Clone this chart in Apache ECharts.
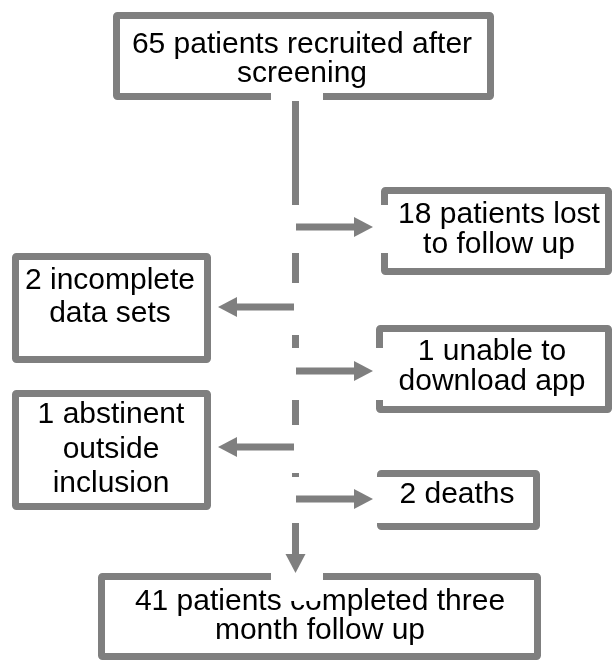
<!DOCTYPE html>
<html><head><meta charset="utf-8">
<script src="https://cdn.jsdelivr.net/npm/echarts@6/dist/echarts.min.js"></script>
<style>html,body{margin:0;padding:0;background:#fff}#c{width:614px;height:660px}</style>
</head><body><div id="c"></div>
<script>
// ---- data ----
const stageCounts = [65, 18, 2, 1, 1, 2, 41];
const stageTexts = [
  'patients recruited after\nscreening',
  'patients lost\nto follow up',
  'incomplete\ndata sets',
  'unable to\ndownload app',
  'abstinent\noutside\ninclusion',
  'deaths',
  'patients completed three\nmonth follow up'
];
const stageLabels = stageCounts.map((n, i) => n + ' ' + stageTexts[i]);

// ---- layout (axis units = page pixels) ----
const boxRects = [
  [113, 12, 494, 100],
  [381, 187, 612, 275],
  [12, 253, 211, 363],
  [376, 325, 612, 413],
  [12, 390, 211, 510],
  [377, 470, 540, 530],
  [98, 573, 541, 660]
];
const textAnchors = [
  [302, 59, 29],
  [499, 229.5, 30],
  [110, 297, 33],
  [492, 366.5, 30],
  [111, 449.5, 34.5],
  [457, 494.5, 30],
  [320, 616, 29]
];
const trunkLine = [295.5, 97, 295.5, 557];
const coverRects = [
  [271, 92, 323, 101],
  [289, 205, 389, 253],
  [215, 283, 302, 335],
  [289, 348, 383, 400],
  [215, 425, 302, 473],
  [289, 477, 398, 523],
  [271, 570, 323, 581],
  [288, 581, 323, 601]
];
const arrowLines = [
  [296, 227, 373, 227],
  [294, 307, 218, 307],
  [296, 371, 373, 371],
  [294, 447, 218, 447],
  [296, 499, 373, 499],
  [295.5, 525, 295.5, 573]
];

const GRAY = '#7f7f7f';
const FONT = '30px "Liberation Sans", Arial, sans-serif';

const chart = echarts.init(document.getElementById('c'), null, {renderer: 'canvas'});

function idxData(arr) { return arr.map((_, i) => [i, 0]); }

const option = {
  animation: false,
  backgroundColor: '#fff',
  grid: {left: 0, right: 0, top: 0, bottom: 0},
  xAxis: {type: 'value', min: 0, max: 614, show: false},
  yAxis: {type: 'value', min: 0, max: 660, inverse: true, show: false},
  series: [
    {
      type: 'custom', z: 1, silent: true,
      data: idxData(boxRects),
      renderItem: function (params, api) {
        const i = params.dataIndex;
        const r = boxRects[i];
        const p0 = api.coord([r[0], r[1]]);
        const p1 = api.coord([r[2], r[3]]);
        const t = textAnchors[i];
        const tp = api.coord([t[0], t[1]]);
        return {
          type: 'group',
          children: [
            {type: 'rect', shape: {x: p0[0] + 3.5, y: p0[1] + 3.5, width: p1[0] - p0[0] - 7, height: p1[1] - p0[1] - 7, r: 1},
             style: {fill: '#fff', stroke: GRAY, lineWidth: 7}},
            {type: 'text', x: tp[0], y: tp[1],
             style: {text: stageLabels[i], font: FONT, fill: '#000', align: 'center', verticalAlign: 'middle', lineHeight: t[2]}}
          ]
        };
      }
    },
    {
      type: 'custom', z: 2, silent: true,
      data: [[0, 0]],
      renderItem: function (params, api) {
        const a = api.coord([trunkLine[0], trunkLine[1]]);
        const b = api.coord([trunkLine[2], trunkLine[3]]);
        return {type: 'line', shape: {x1: a[0], y1: a[1], x2: b[0], y2: b[1]}, style: {stroke: GRAY, lineWidth: 7, lineCap: 'butt'}};
      }
    },
    {
      type: 'custom', z: 3, silent: true,
      data: idxData(coverRects),
      renderItem: function (params, api) {
        const r = coverRects[params.dataIndex];
        const p0 = api.coord([r[0], r[1]]);
        const p1 = api.coord([r[2], r[3]]);
        return {type: 'rect', shape: {x: p0[0], y: p0[1], width: p1[0] - p0[0], height: p1[1] - p0[1]}, style: {fill: '#fff'}};
      }
    },
    {
      type: 'custom', z: 4, silent: true,
      data: idxData(arrowLines),
      renderItem: function (params, api) {
        const l = arrowLines[params.dataIndex];
        const a = api.coord([l[0], l[1]]);
        const b = api.coord([l[2], l[3]]);
        const dx = b[0] - a[0], dy = b[1] - a[1];
        const len = Math.sqrt(dx * dx + dy * dy);
        const ux = dx / len, uy = dy / len;
        const hl = 19, hw = 10;
        const bx = b[0] - ux * hl, by = b[1] - uy * hl;
        return {
          type: 'group',
          children: [
            {type: 'line', shape: {x1: a[0], y1: a[1], x2: bx + ux, y2: by + uy}, style: {stroke: GRAY, lineWidth: 7, lineCap: 'butt'}},
            {type: 'polygon', shape: {points: [[b[0], b[1]], [bx - uy * hw, by + ux * hw], [bx + uy * hw, by - ux * hw]]}, style: {fill: GRAY}}
          ]
        };
      }
    }
  ]
};
chart.setOption(option);
</script>
</body></html>
